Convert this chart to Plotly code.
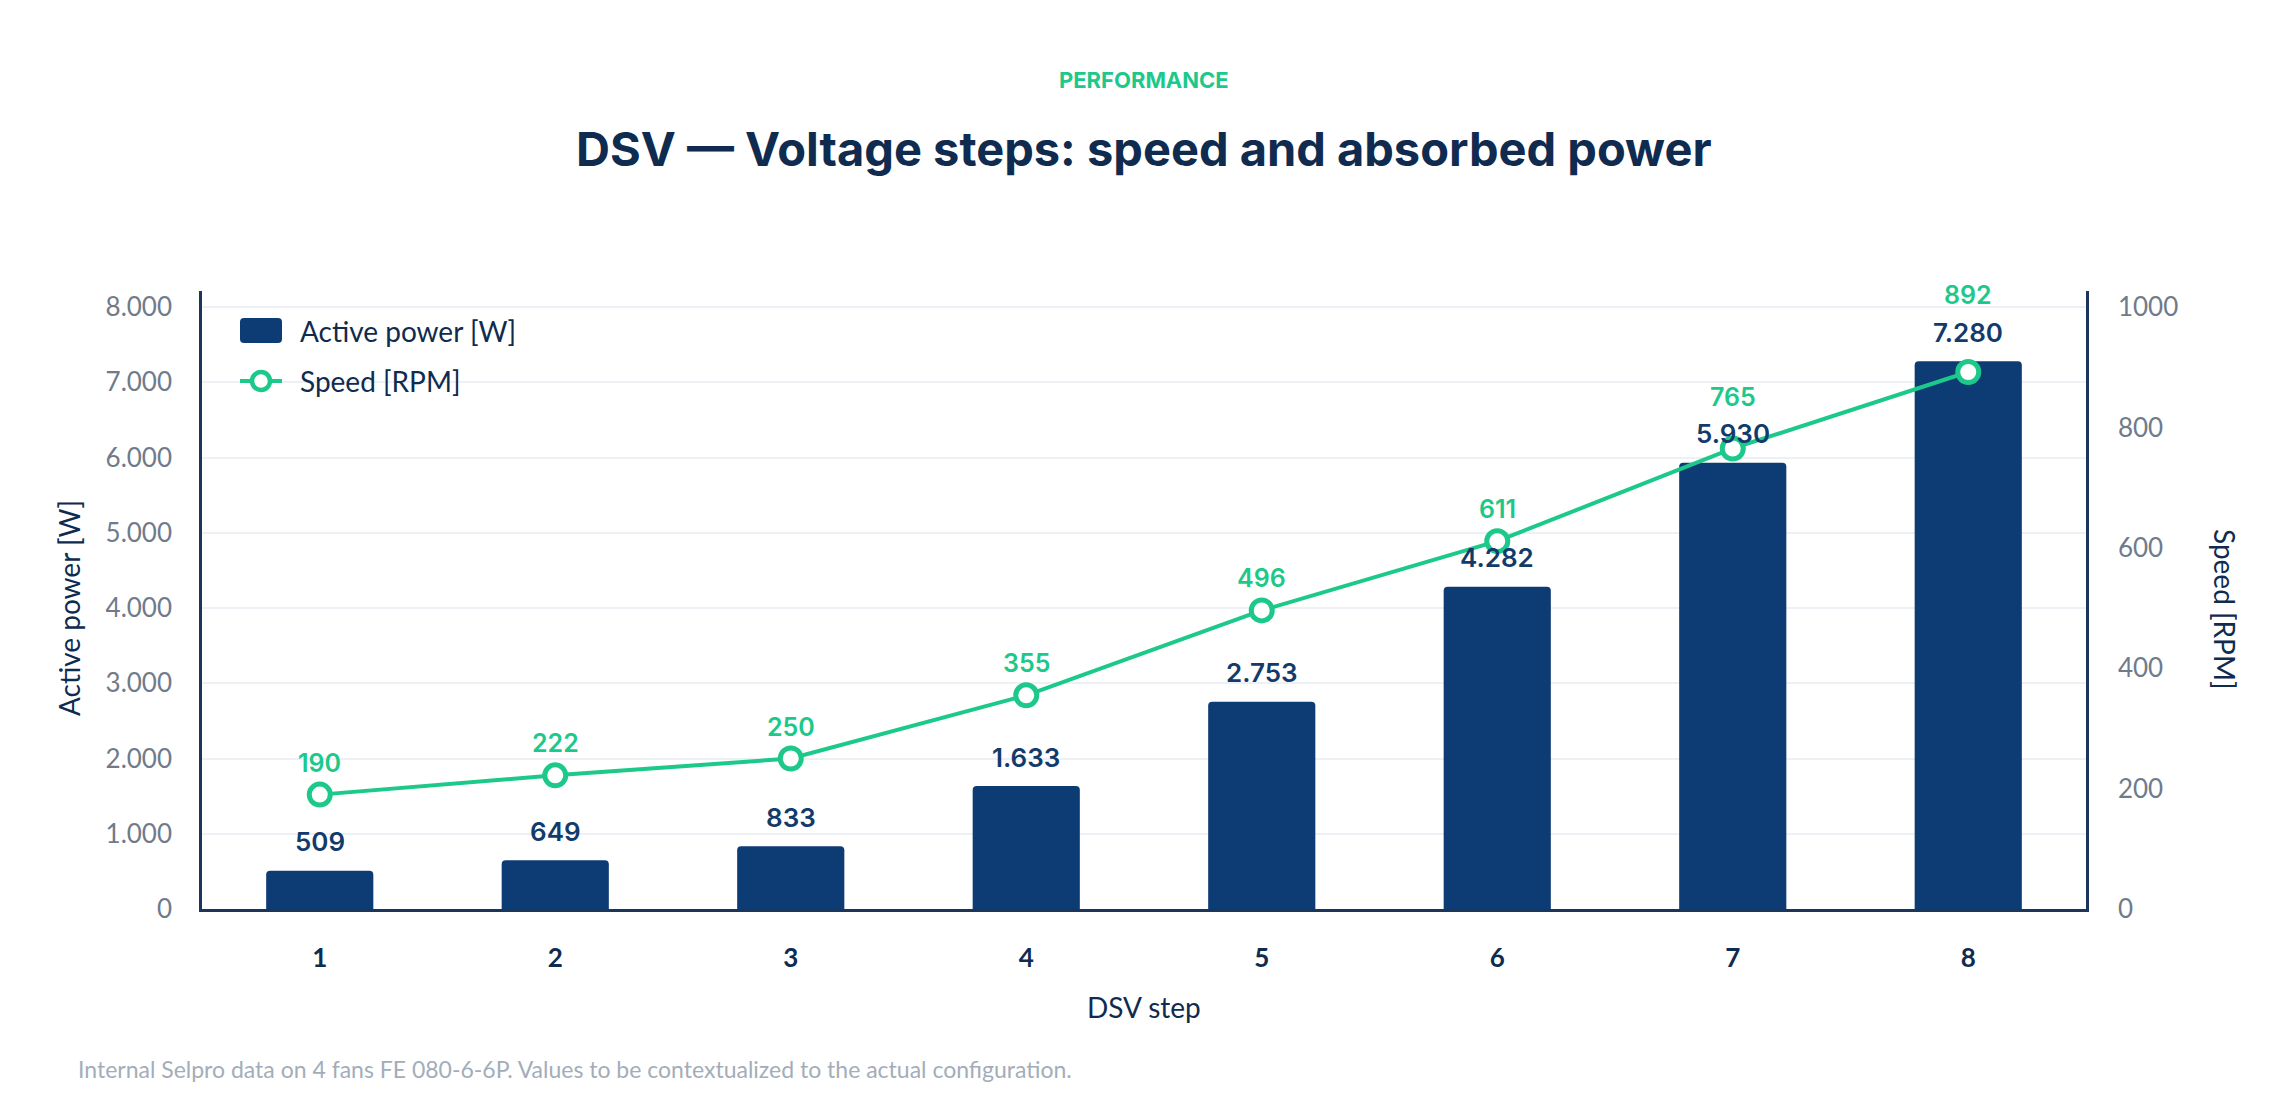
import plotly.graph_objects as go

# ---- data ----
steps = ["1", "2", "3", "4", "5", "6", "7", "8"]
power_w = [509, 649, 833, 1633, 2753, 4282, 5930, 7280]
speed_rpm = [190, 222, 250, 355, 496, 611, 765, 892]
power_ticks = [0, 1000, 2000, 3000, 4000, 5000, 6000, 7000, 8000]
speed_ticks = [0, 200, 400, 600, 800, 1000]

# ---- style ----
W, H = 2289, 1112
ML, MR, MT, MB = 202, 203, 291, 203
PW, PH = W - ML - MR, H - MT - MB
Y1_MAX = 8000 * PH / 602.0
Y2_MAX = Y1_MAX / 8.0

NAVY = "#0f2b4f"
BAR = "#0d3c75"
GREEN = "#1cc98a"
GRAY = "#6f7b8b"
AXIS = "#1b355b"
GRID = "#edf1f6"
FONT = "Inter"
TICKFONT = "Lato"


def fmt(v):
    return f"{v:,}".replace(",", ".")


def px_x(px):
    return (px - ML) / PW


def px_y(py):
    return (H - MB - py) / PH


fig = go.Figure()
fig.add_trace(go.Bar(
    x=steps, y=power_w, name="Active power [W]",
    marker=dict(color=BAR, line=dict(width=0)),
    yaxis="y", showlegend=False,
))
fig.add_trace(go.Scatter(
    x=steps, y=speed_rpm, name="Speed [RPM]", yaxis="y2",
    mode="lines+markers",
    line=dict(color=GREEN, width=4),
    marker=dict(size=21, color="white", line=dict(color=GREEN, width=5)),
    showlegend=False,
))

annotations = []
# value labels (x given as category index)
for i, (p, v) in enumerate(zip(power_w, speed_rpm)):
    annotations.append(dict(
        x=i, y=p, xref="x", yref="y", text=fmt(p), showarrow=False,
        yshift=29, yanchor="middle",
        font=dict(family=FONT, size=26, color="#123b6c", weight=600),
    ))
    bar_px = p / Y1_MAX * PH
    mark_px = v / Y2_MAX * PH
    shift = max(32, bar_px + 66 - mark_px)
    annotations.append(dict(
        x=i, y=v, xref="x", yref="y2", text=str(v), showarrow=False,
        yshift=shift, yanchor="middle",
        font=dict(family=FONT, size=25, color=GREEN, weight=600),
    ))

# header / footer text
annotations += [
    dict(x=0.5, y=px_y(80), xref="paper", yref="paper", text="PERFORMANCE",
         showarrow=False, xanchor="center", yanchor="middle",
         font=dict(family=FONT, size=22, color=GREEN, weight=700)),
    dict(x=0.5, y=px_y(149), xref="paper", yref="paper",
         text="DSV — Voltage steps: speed and absorbed power",
         showarrow=False, xanchor="center", yanchor="middle",
         font=dict(family=FONT, size=47, color=NAVY, weight=700)),
    dict(x=px_x(76), y=px_y(1069), xref="paper", yref="paper",
         text="Internal Selpro data on 4 fans FE 080-6-6P. Values to be contextualized to the actual configuration.",
         showarrow=False, xanchor="left", yanchor="middle",
         font=dict(family=TICKFONT, size=23, color="#a3adba")),
    dict(x=0.5, y=px_y(1007), xref="paper", yref="paper", text="DSV step",
         showarrow=False, xanchor="center", yanchor="middle",
         font=dict(family=TICKFONT, size=28, color=NAVY)),
    dict(x=px_x(69), y=px_y(608), xref="paper", yref="paper", text="Active power [W]",
         showarrow=False, textangle=-90, xanchor="center", yanchor="middle",
         font=dict(family=TICKFONT, size=28, color=NAVY)),
    dict(x=px_x(2225), y=px_y(609), xref="paper", yref="paper", text="Speed [RPM]",
         showarrow=False, textangle=90, xanchor="center", yanchor="middle",
         font=dict(family=TICKFONT, size=28, color=NAVY)),
    # legend text
    dict(x=px_x(298), y=px_y(331), xref="paper", yref="paper", text="Active power [W]",
         showarrow=False, xanchor="left", yanchor="middle",
         font=dict(family=TICKFONT, size=28, color=NAVY)),
    dict(x=px_x(298), y=px_y(381), xref="paper", yref="paper", text="Speed [RPM]",
         showarrow=False, xanchor="left", yanchor="middle",
         font=dict(family=TICKFONT, size=28, color=NAVY)),
]


def rrect(x0, y0, x1, y1, r):
    X0, X1 = px_x(x0), px_x(x1)
    Y0, Y1 = px_y(y0), px_y(y1)
    rx, ry = r / PW, r / PH
    return (f"M{X0 + rx},{Y0} L{X1 - rx},{Y0} Q{X1},{Y0} {X1},{Y0 - ry} "
            f"L{X1},{Y1 + ry} Q{X1},{Y1} {X1 - rx},{Y1} L{X0 + rx},{Y1} "
            f"Q{X0},{Y1} {X0},{Y1 + ry} L{X0},{Y0 - ry} Q{X0},{Y0} {X0 + rx},{Y0} Z")


shapes = [
    dict(type="path", xref="paper", yref="paper", path=rrect(240, 318, 282, 343, 4),
         fillcolor=BAR, line=dict(width=0)),
    dict(type="line", xref="paper", yref="paper", x0=px_x(240), x1=px_x(282),
         y0=px_y(381), y1=px_y(381), line=dict(color=GREEN, width=4)),
    dict(type="circle", xref="paper", yref="paper", x0=px_x(252), x1=px_x(270),
         y0=px_y(390), y1=px_y(372), fillcolor="white", line=dict(color=GREEN, width=4.5)),
]

fig.update_layout(
    width=W, height=H,
    margin=dict(l=ML, r=MR, t=MT, b=MB, autoexpand=False),
    paper_bgcolor="white", plot_bgcolor="white",
    separators=",.",
    bargap=0.545,
    barcornerradius=4,
    annotations=annotations,
    shapes=shapes,
    xaxis=dict(
        type="category", range=[-0.5, len(steps) - 0.5],
        showline=True, linecolor=AXIS, linewidth=2.5,
        showgrid=False, ticks="", ticklabelstandoff=24,
        tickfont=dict(family=TICKFONT, size=26, color=NAVY, weight=700),
        zeroline=False,
    ),
    yaxis=dict(
        range=[0, Y1_MAX], tickvals=power_ticks,
        ticktext=[fmt(t) for t in power_ticks],
        showline=True, linecolor=AXIS, linewidth=2.5,
        showgrid=True, gridcolor=GRID, gridwidth=1.5,
        zeroline=False, ticks="", ticklabelstandoff=22,
        tickfont=dict(family=TICKFONT, size=26, color=GRAY),
    ),
    yaxis2=dict(
        range=[0, Y2_MAX], overlaying="y", side="right",
        tickvals=speed_ticks, ticktext=[str(t) for t in speed_ticks],
        showline=True, linecolor=AXIS, linewidth=2.5,
        showgrid=False, zeroline=False, ticks="", ticklabelstandoff=24,
        tickfont=dict(family=TICKFONT, size=26, color=GRAY),
    ),
)

fig.write_html("out.html")
